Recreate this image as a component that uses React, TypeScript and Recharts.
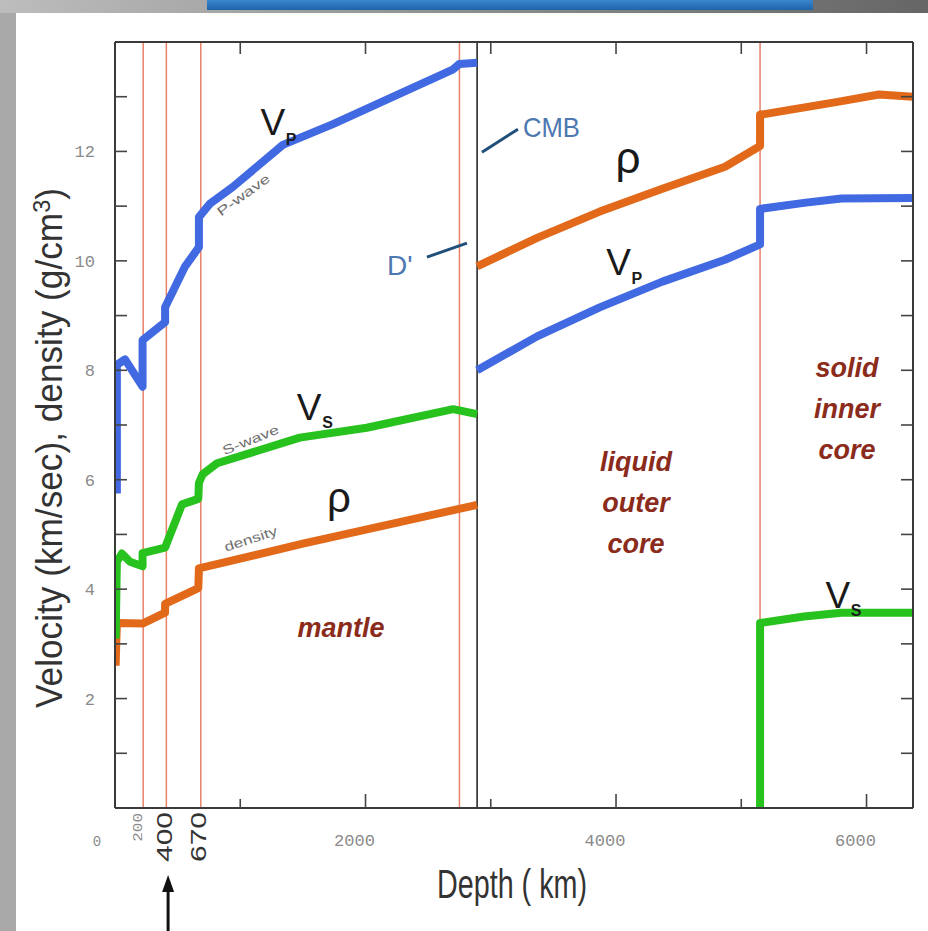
import React from 'react';
import { LineChart, Line, XAxis, YAxis, ReferenceLine, ReferenceDot } from 'recharts';

// ---------- data (depth in km, values in km/s or g/cm3) ----------
const vpMantleDepth = [15, 15, 80, 220, 220, 400, 400, 560, 670, 670, 760, 940, 1340, 1740, 2270, 2700, 2750, 2891];
const vpMantleValue = [5.75, 8.1, 8.2, 7.7, 8.55, 8.88, 9.15, 9.9, 10.25, 10.8, 11.05, 11.35, 12.12, 12.5, 13.05, 13.5, 13.6, 13.62];
const vpCoreDepth = [2891, 3370, 3870, 4370, 4870, 5150, 5150, 5500, 5800, 6371];
const vpCoreValue = [8.0, 8.62, 9.15, 9.62, 10.02, 10.3, 10.95, 11.06, 11.14, 11.15];
const vsMantleDepth = [5, 15, 55, 120, 220, 220, 400, 535, 665, 670, 700, 815, 1475, 2010, 2700, 2891];
const vsMantleValue = [3.1, 4.5, 4.65, 4.5, 4.42, 4.66, 4.76, 5.55, 5.65, 5.94, 6.1, 6.3, 6.77, 6.95, 7.29, 7.2];
const vsInnerDepth = [5150, 5150, 5500, 5800, 6371];
const vsInnerValue = [0, 3.38, 3.5, 3.57, 3.57];
const rhoMantleDepth = [5, 15, 220, 400, 400, 665, 670, 1500, 2891];
const rhoMantleValue = [2.6, 3.38, 3.37, 3.57, 3.73, 4.02, 4.38, 4.83, 5.54];
const rhoCoreDepth = [2891, 3370, 3870, 4370, 4870, 5150, 5150, 5780, 6100, 6371];
const rhoCoreValue = [9.9, 10.42, 10.9, 11.32, 11.72, 12.1, 12.67, 12.91, 13.04, 13.0];

const discontinuities = [225, 410, 685, 2750, 5150];
const cmbDepth = 2891;

const xTicks = [0, 200, 400, 670, 1000, 2000, 3000, 4000, 5000, 6000];
const xTickLabels: Record<number, string> = { 0: '0', 2000: '2000', 4000: '4000', 6000: '6000' };
const topTicks = [1000, 2000, 3000, 4000, 5000, 6000];
const yTicks = [1, 2, 3, 4, 5, 6, 7, 8, 9, 10, 11, 12, 13];
const yTickLabels = [2, 4, 6, 8, 10, 12];

const BLUE = '#4169E1';
const GREEN = '#27C21E';
const ORANGE = '#E2691A';
const RED = '#E8806A';
const BROWN = '#8B2B1B';
const NOTE_BLUE = '#4D78B0';
const SANS = '"Liberation Sans", Arial, sans-serif';
const MONO = '"Liberation Mono", "Courier New", monospace';

const pts = (d: number[], v: number[]) => d.map((x, i) => ({ depth: x, value: v[i] }));

const BottomTick = (p: any) => {
  const { x, y, payload } = p;
  const v = payload.value as number;
  return (
    <g>
      {v % 1000 === 0 && v > 0 && (
        <line x1={x} x2={x} y1={y} y2={y - (v % 2000 === 0 ? 14 : 9)} stroke="#444" strokeWidth={1.6} />
      )}
      {xTickLabels[v] !== undefined && (
        <text x={x + (v === 0 ? -18 : -11)} y={y + 38} textAnchor="middle" fontFamily={MONO} fontSize={v === 0 ? 14 : 17} fill="#8a8a8a">
          {xTickLabels[v]}
        </text>
      )}
      {v === 200 && (
        <text transform={`translate(${x + 2},${y + 5}) scale(0.75,1) rotate(-90)`} textAnchor="end" fontFamily={MONO} fontSize={16} fill="#8a8a8a">
          200
        </text>
      )}
      {(v === 400 || v === 670) && (
        <text transform={`translate(${x + 7},${y + 4}) scale(0.72,1) rotate(-90)`} textAnchor="end" fontFamily={SANS} fontSize={30} fill="#333">
          {String(v)}
        </text>
      )}
      {v === 400 && (
        <g>
          <line x1={x + 3} x2={x + 3} y1={y + 130} y2={y + 80} stroke="#111" strokeWidth={3} />
          <path d={`M ${x + 3} ${y + 67} L ${x - 3} ${y + 84} L ${x + 9} ${y + 84} Z`} fill="#111" />
        </g>
      )}
    </g>
  );
};

const TopTick = (p: any) => {
  const { x, y } = p;
  return <line x1={x} x2={x} y1={y} y2={y + 12} stroke="#444" strokeWidth={1.6} />;
};

const LeftTick = (p: any) => {
  const { x, y, payload } = p;
  const v = payload.value as number;
  return (
    <g>
      <line x1={x} x2={x + 12} y1={y} y2={y} stroke="#444" strokeWidth={1.6} />
      {yTickLabels.includes(v) && (
        <text x={x - 20} y={y + 6} textAnchor="end" fontFamily={MONO} fontSize={17} fill="#8a8a8a">
          {v}
        </text>
      )}
    </g>
  );
};

const RightTick = (p: any) => {
  const { x, y } = p;
  return <line x1={x} x2={x - 12} y1={y} y2={y} stroke="#444" strokeWidth={1.6} />;
};

const YTitle = (p: any) => {
  const vb = p.viewBox || { x: 95, y: 42, width: 20, height: 766 };
  const cx = vb.x - 33;
  const cy = vb.y + vb.height / 2 + 23;
  return (
    <text transform={`translate(${cx},${cy}) rotate(-90)`} textAnchor="middle" fontFamily={SANS} fontSize={36} fill="#333" textLength={520} lengthAdjust="spacingAndGlyphs">
      Velocity (km/sec), density (g/cm<tspan dy={-12} fontSize={24}>3</tspan><tspan dy={12}>)</tspan>
    </text>
  );
};

const XTitle = (p: any) => {
  const vb = p.viewBox || { x: 115, y: 808, width: 798, height: 20 };
  return (
    <text x={vb.x + vb.width / 2 - 2} y={vb.y + 90} textAnchor="middle" fontFamily={SANS} fontSize={40} fill="#333" textLength={150} lengthAdjust="spacingAndGlyphs">
      Depth ( km)
    </text>
  );
};

const VSub = ({ main, sub, dx, dy }: { main: string; sub: string; dx: number; dy: number }) => (
  <g>
    <text x={0} y={0} textAnchor="middle" fontFamily={SANS} fontSize={37} fill="#1a1a1a">{main}</text>
    <text x={dx} y={dy} fontFamily={SANS} fontSize={16} fontWeight="bold" fill="#1a1a1a">{sub}</text>
  </g>
);

const note = (key: string, depth: number, value: number, content: React.ReactNode) => (
  <ReferenceDot
    key={key}
    x={depth}
    y={value}
    r={0}
    ifOverflow="visible"
    isFront
    shape={(sp: any) => <g transform={`translate(${sp.cx},${sp.cy})`}>{content}</g>}
  />
);

const small = (text: string, angle: number, len: number) => (
  <text transform={`rotate(${angle})`} textAnchor="middle" dominantBaseline="middle" fontFamily={SANS} fontSize={13} fill="#6e6e6e" textLength={len} lengthAdjust="spacingAndGlyphs">
    {text}
  </text>
);

const region = (lines: string[]) => (
  <g>
    {lines.map((t, i) => (
      <text key={t} x={0} y={i * 41} textAnchor="middle" fontFamily={SANS} fontSize={27} fontWeight="bold" fontStyle="italic" fill={BROWN}>
        {t}
      </text>
    ))}
  </g>
);

export default function App() {
  const series = [
    { id: 'vpm', data: pts(vpMantleDepth, vpMantleValue), color: BLUE },
    { id: 'vpc', data: pts(vpCoreDepth, vpCoreValue), color: BLUE },
    { id: 'rhom', data: pts(rhoMantleDepth, rhoMantleValue), color: ORANGE },
    { id: 'rhoc', data: pts(rhoCoreDepth, rhoCoreValue), color: ORANGE },
    { id: 'vsm', data: pts(vsMantleDepth, vsMantleValue), color: GREEN },
    { id: 'vsi', data: pts(vsInnerDepth, vsInnerValue), color: GREEN },
  ];
  return (
    <div style={{ position: 'absolute', left: 0, top: 0, width: 928, height: 931, background: '#fff', overflow: 'hidden' }}>
      <div style={{ position: 'absolute', left: 0, top: 0, width: 16, height: 931, background: '#a9a9a9' }} />
      <div style={{ position: 'absolute', left: 0, top: 0, width: 928, height: 13, background: 'linear-gradient(90deg,#bdbdbd,#8e8e8e 50%,#666)' }} />
      <div style={{ position: 'absolute', left: 207, top: 0, width: 606, height: 10, background: 'linear-gradient(180deg,#3a86cc,#1e64a8)' }} />
      <div style={{ position: 'absolute', left: 0, top: 0 }}>
        <LineChart width={928} height={931} margin={{ top: 22, right: 5, bottom: 103, left: 95 }}>
          <XAxis xAxisId="b" dataKey="depth" type="number" domain={[0, 6371]} allowDataOverflow ticks={xTicks} interval={0}
            tickSize={0} tickMargin={0} tickLine={false} axisLine={{ stroke: '#3a3a3a', strokeWidth: 2 }} height={20}
            tick={BottomTick} label={{ content: XTitle }} />
          <XAxis xAxisId="t" orientation="top" dataKey="depth" type="number" domain={[0, 6371]} allowDataOverflow ticks={topTicks} interval={0}
            tickSize={0} tickMargin={0} tickLine={false} axisLine={{ stroke: '#3a3a3a', strokeWidth: 2 }} height={20} tick={TopTick} />
          <YAxis yAxisId="l" type="number" domain={[0, 14]} allowDataOverflow ticks={yTicks} interval={0}
            tickSize={0} tickMargin={0} tickLine={false} axisLine={{ stroke: '#3a3a3a', strokeWidth: 2 }} width={20}
            tick={LeftTick} label={{ content: YTitle }} />
          <YAxis yAxisId="r" orientation="right" type="number" domain={[0, 14]} allowDataOverflow ticks={yTicks} interval={0}
            tickSize={0} tickMargin={0} tickLine={false} axisLine={{ stroke: '#3a3a3a', strokeWidth: 2 }} width={10} tick={RightTick} />

          {discontinuities.map((d) => (
            <ReferenceLine key={'d' + d} xAxisId="b" yAxisId="l" x={d} stroke={RED} strokeWidth={1.5} />
          ))}
          <ReferenceLine xAxisId="b" yAxisId="l" x={cmbDepth} stroke="#2a2a2a" strokeWidth={1.6} />

          {series.map((s) => (
            <Line key={s.id} xAxisId="b" yAxisId="l" data={s.data} dataKey="value" type="linear" stroke={s.color}
              strokeWidth={8} strokeLinejoin="round" dot={false} activeDot={false} isAnimationActive={false} />
          ))}

          {[
            note('vp1', 1260, 12.3, <VSub main="V" sub="P" dx={13} dy={10} />),
            note('pw', 1030, 11.19, small('P-wave', -36, 62)),
            note('vs1', 1550, 7.09, <VSub main="V" sub="S" dx={13} dy={8} />),
            note('sw', 1086, 6.71, small('S-wave', -22, 60)),
            note('rho1', 1788, 5.41, <text textAnchor="middle" fontFamily={SANS} fontSize={42} fill="#1a1a1a">ρ</text>),
            note('den', 1086, 4.9, small('density', -18, 55)),
            note('mantle', 1804, 3.13, region(['mantle'])),
            note('cmb', 3257, 12.26, (
              <g>
                <text x={0} y={0} fontFamily={SANS} fontSize={28} fill={NOTE_BLUE} textLength={57} lengthAdjust="spacingAndGlyphs">CMB</text>
                <line x1={-41} y1={15} x2={-5} y2={-8} stroke="#1F4F7A" strokeWidth={3} />
              </g>
            )),
            note('dpp', 2171, 9.74, (
              <g>
                <text x={0} y={0} fontFamily={SANS} fontSize={28} fill={NOTE_BLUE}>D'</text>
                <line x1={40} y1={-18} x2={80} y2={-32} stroke="#1F4F7A" strokeWidth={3} />
              </g>
            )),
            note('rho2', 4096, 11.6, <text textAnchor="middle" fontFamily={SANS} fontSize={44} fill="#1a1a1a">ρ</text>),
            note('vp2', 4020, 9.74, <VSub main="V" sub="P" dx={13} dy={9} />),
            note('liq', 4159, 6.16, region(['liquid', 'outer', 'core'])),
            note('sol', 5844, 7.88, region(['solid', 'inner', 'core'])),
            note('vs2', 5770, 3.66, <VSub main="V" sub="S" dx={13} dy={8} />),
          ].map((n) => React.cloneElement(n, { xAxisId: 'b', yAxisId: 'l' }))}
        </LineChart>
      </div>
    </div>
  );
}
